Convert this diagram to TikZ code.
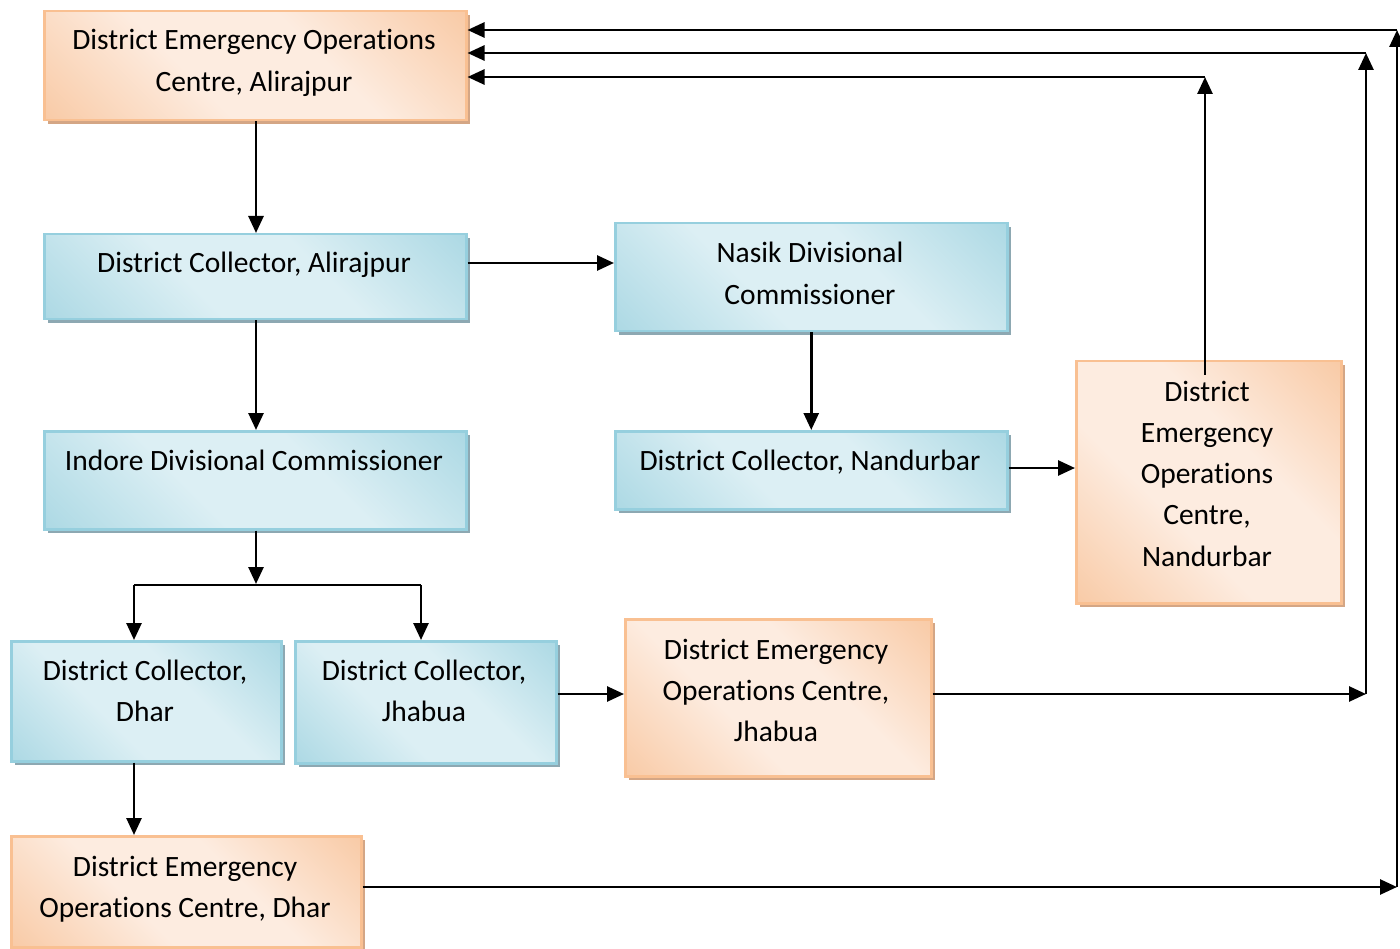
\documentclass[tikz,border=0pt]{standalone}
\usepackage{fontspec}
\setmainfont{Carlito}[Ligatures=NoCommon]
\usetikzlibrary{arrows.meta,shadows}

\definecolor{orDark}{RGB}{246,183,133}
\definecolor{orLight}{RGB}{253,236,224}
\definecolor{orEdge}{RGB}{249,192,146}
\definecolor{orShadow}{RGB}{212,166,133}
\definecolor{blDark}{RGB}{145,204,219}
\definecolor{blLight}{RGB}{220,239,244}
\definecolor{blEdge}{RGB}{150,207,222}
\definecolor{blShadow}{RGB}{141,168,178}

\pgfdeclarehorizontalshading{orangeband}{100bp}{color(0bp)=(orDark); color(40bp)=(orLight); color(60bp)=(orLight); color(100bp)=(orDark)}
\pgfdeclarehorizontalshading{blueband}{100bp}{color(0bp)=(blDark); color(40bp)=(blLight); color(60bp)=(blLight); color(100bp)=(blDark)}

\tikzset{
  box/.style={rectangle, anchor=north west, inner sep=0pt, line width=2.5pt, shading angle=45},
  eoc/.style={box, draw=orEdge, shading=orangeband,
    drop shadow={shadow xshift=3.5pt, shadow yshift=-3.5pt, fill=orShadow, opacity=1}},
  office/.style={box, draw=blEdge, shading=blueband,
    drop shadow={shadow xshift=3.5pt, shadow yshift=-3.5pt, fill=blShadow, opacity=1}},
  % anchor=base sits on the baseline of the last line
  lbl/.style={anchor=base, align=center, inner sep=0pt,
    font=\fontsize{29.5}{41.3}\selectfont},
  arr/.style={line width=2.7pt, -{Triangle[length=17pt,width=15pt]}},
  link/.style={line width=2.7pt}
}

\begin{document}
\begin{tikzpicture}[x=1pt,y=-1pt]
\fill[white] (0,0) rectangle (1400,949);
\useasboundingbox (0,0) rectangle (1400,949);

% boxes
\node[eoc, minimum width=422pt, minimum height=109pt] (eocA) at (43,10) {};
\node[office, minimum width=422pt, minimum height=85pt] (dcA) at (43,233) {};
\node[office, minimum width=392pt, minimum height=108pt] (nasik) at (614,222) {};
\node[office, minimum width=422pt, minimum height=98pt] (indore) at (43,430) {};
\node[office, minimum width=392pt, minimum height=78pt] (dcN) at (614,430) {};
\node[eoc, minimum width=265pt, minimum height=242pt] (eocN) at (1075,360) {};
\node[office, minimum width=270pt, minimum height=120pt] (dcDhar) at (10,640) {};
\node[office, minimum width=261pt, minimum height=122pt] (dcJh) at (294,640) {};
\node[eoc, minimum width=306pt, minimum height=157pt] (eocJh) at (624,618) {};
\node[eoc, minimum width=350pt, minimum height=111pt] (eocDhar) at (10,835) {};

% labels
\node[lbl] (eocA-t) at (254,91.3) {District Emergency Operations\\Centre, Alirajpur};
\node[lbl] (dcA-t) at (254,273) {District Collector, Alirajpur};
\node[lbl] (nasik-t) at (810,304.3) {Nasik Divisional\\Commissioner};
\node[lbl] (indore-t) at (254,470) {Indore Divisional Commissioner};
\node[lbl] (dcN-t) at (810,470) {District Collector, Nandurbar};
\node[lbl] (eocN-t) at (1207,566.2) {District\\Emergency\\Operations\\Centre,\\Nandurbar};
\node[lbl] (dcDhar-t) at (145,721.3) {District Collector,\\Dhar};
\node[lbl] (dcJh-t) at (424,721.3) {District Collector,\\Jhabua};
\node[lbl] (eocJh-t) at (776,741.6) {District Emergency\\Operations Centre,\\Jhabua};
\node[lbl] (eocDhar-t) at (185,917.3) {District Emergency\\Operations Centre, Dhar};

% routing points
\coordinate (xMid) at (256,0);
\coordinate (yA) at (0,263);
\coordinate (yN) at (0,468);
\coordinate (yJ) at (0,694);
\coordinate (nUp) at (1205,77);
\coordinate (jCor) at (1366,694);
\coordinate (jTop) at (1366,53);
\coordinate (dCor) at (1397,887);
\coordinate (dTop) at (1397,30);
\coordinate (sL) at (134,585);
\coordinate (sR) at (421,585);
\coordinate (sM) at (256,585);

% connectors
\draw[arr] (eocA.south -| xMid) -- (dcA.north -| xMid);
\draw[arr] (dcA.east |- yA) -- (nasik.west |- yA);
\draw[arr] (dcA.south -| xMid) -- (indore.north -| xMid);
\draw[arr] (nasik) -- (dcN);
\draw[arr] (dcN.east |- yN) -- (eocN.west |- yN);
\draw[arr] ([yshift=-15pt]eocN.north -| nUp) -- (nUp);
\draw[arr] (nUp) -- (eocA.east |- nUp);

\draw[arr] (indore.south -| sM) -- ([yshift=1pt]sM);
\draw[link] (sL) -- (sR);
\draw[arr] (sL) -- (dcDhar.north -| sL);
\draw[arr] (sR) -- (dcJh.north -| sR);
\draw[arr] (dcDhar.south -| sL) -- (eocDhar.north -| sL);

\draw[arr] (dcJh.east |- yJ) -- (eocJh.west |- yJ);
\draw[arr] (eocJh.east |- yJ) -- (jCor);
\draw[arr] (jCor) -- (jTop);
\draw[arr] (jTop) -- (eocA.east |- jTop);

\draw[arr] (eocDhar.east |- dCor) -- (dCor);
\draw[arr] (dCor) -- (dTop);
\draw[arr] (dTop) -- (eocA.east |- dTop);
\end{tikzpicture}
\end{document}
